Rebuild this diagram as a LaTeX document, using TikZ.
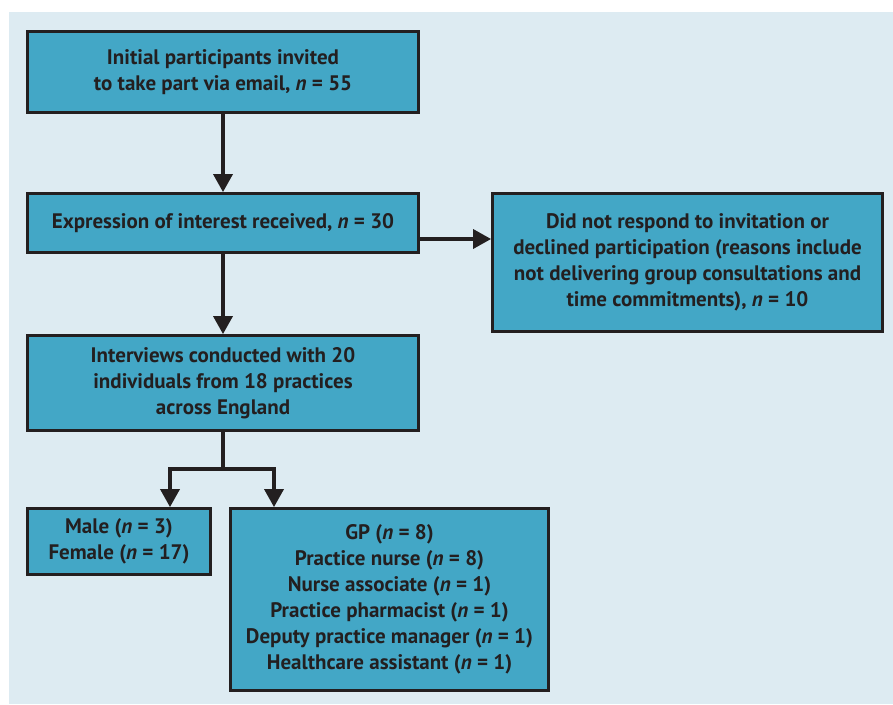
\documentclass[tikz,border=0pt]{standalone}
\usepackage{fontspec}
\setmainfont{PT Sans}
\usetikzlibrary{arrows.meta}
\definecolor{bgblue}{RGB}{221,235,242}
\definecolor{boxblue}{RGB}{67,167,198}
\definecolor{ink}{RGB}{35,31,32}
\tikzset{
  box/.style={draw=ink, fill=boxblue, line width=2.8pt, rectangle, inner sep=0pt,
    align=center, text=ink, font=\fontsize{21}{26}\selectfont\bfseries},
  arr/.style={draw=ink, line width=3.5pt, -{Triangle[width=19pt,length=18pt]}},
  plainline/.style={draw=ink, line width=3.5pt}
}
\newcommand{\nn}{\textit{n}}
\begin{document}
\begin{tikzpicture}[x=1pt,y=-1pt]
\useasboundingbox (0,0) rectangle (893,704);
\fill[bgblue] (9,12) rectangle (893,704);

\node[box, minimum width=391pt, minimum height=81pt] (b1) at (223,72)
  {Initial participants invited\\to take part via email, \nn{} = 55};
\node[box, minimum width=391pt, minimum height=59pt] (b2) at (223,223)
  {Expression of interest received, \nn{} = 30};
\node[box, minimum width=390pt, minimum height=138pt] (b3) at (687.5,262.5)
  {Did not respond to invitation or\\declined participation (reasons include\\not delivering group consultations and\\time commitments), \nn{} = 10};
\node[box, minimum width=391pt, minimum height=95pt] (b4) at (223,383)
  {Interviews conducted with 20\\individuals from 18 practices\\across England};
\node[box, minimum width=183pt, minimum height=66pt] (b5) at (119,541.5)
  {Male (\nn{} = 3)\\Female (\nn{} = 17)};
\node[box, minimum width=318pt, minimum height=182pt] (b6) at (389.5,599.5)
  {GP (\nn{} = 8)\\Practice nurse (\nn{} = 8)\\Nurse associate (\nn{} = 1)\\Practice pharmacist (\nn{} = 1)\\Deputy practice manager (\nn{} = 1)\\Healthcare assistant (\nn{} = 1)};

\coordinate (split) at (223,469);

\draw[arr] (b1) -- (b2);
\draw[arr] (b2) -- (b4);
\draw[arr] ([yshift=-16pt]b2.east) -- ([yshift=-16pt]b2.east -| b3.west);
\draw[plainline] (b4.south) -- (split);
\draw[arr, line join=miter] ([xshift=-53pt]split) -- ([xshift=51pt]b5.north);
\draw[arr, line join=miter] ([xshift=51pt]split) -- ([xshift=-115.5pt]b6.north);
\draw[plainline, line cap=rect] ([xshift=-53pt]split) -- ([xshift=51pt]split);
\end{tikzpicture}
\end{document}
